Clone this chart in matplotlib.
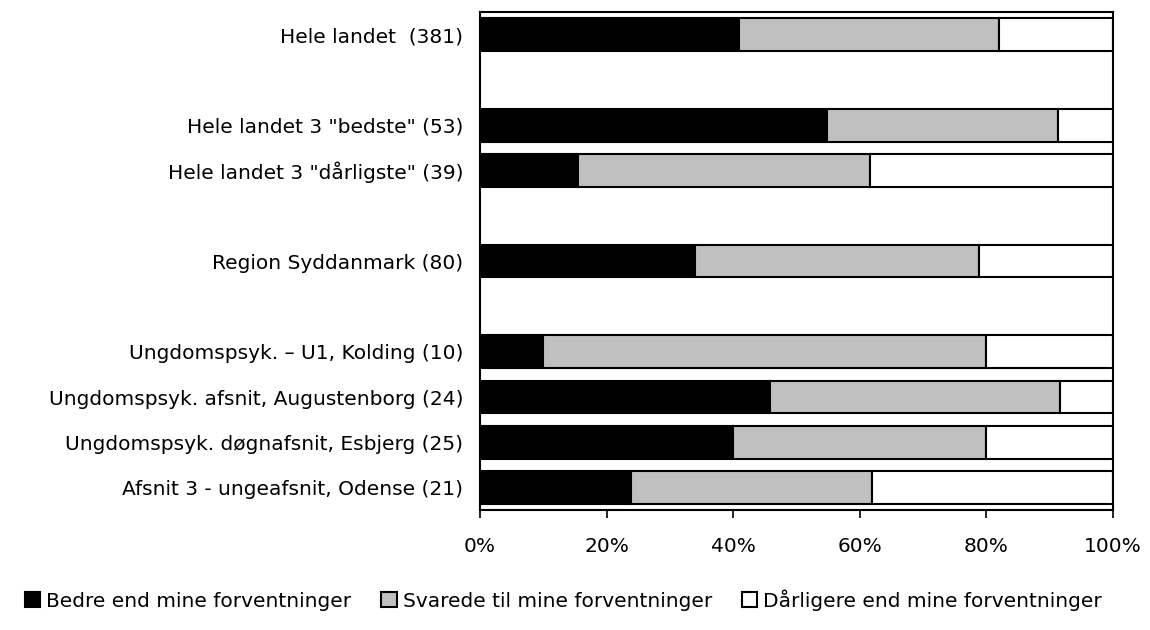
import numpy as np
import matplotlib
matplotlib.use("Agg")
import matplotlib.pyplot as plt
from matplotlib.patches import Patch

# rows from top to bottom, None = empty slot
labels = ['Hele landet  (381)', None,
          'Hele landet 3 "bedste" (53)', 'Hele landet 3 "dårligste" (39)', None,
          'Region Syddanmark (80)', None,
          'Ungdomspsyk. \u2013 U1, Kolding (10)',
          'Ungdomspsyk. afsnit, Augustenborg (24)',
          'Ungdomspsyk. døgnafsnit, Esbjerg (25)',
          'Afsnit 3 - ungeafsnit, Odense (21)']
bedre = [40.9, None, 54.8, 15.5, None, 34.0, None, 10.0, 45.8, 40.0, 23.8]
svarede = [41.1, None, 36.5, 46.1, None, 44.8, None, 70.0, 45.9, 40.0, 38.1]
series_names = ['Bedre end mine forventninger', 'Svarede til mine forventninger',
                'Dårligere end mine forventninger']
colors = ['#000000', '#c0c0c0', '#ffffff']

plt.rcParams['font.family'] = ['DejaVu Sans']

fig = plt.figure(figsize=(11.5, 6.3), dpi=100)
ax = fig.add_axes([0.4174, 0.190, 0.5504, 0.791])

pos = [i for i, l in enumerate(labels) if l is not None]
b = np.array([bedre[i] for i in pos])
s = np.array([svarede[i] for i in pos])
d = 100 - b - s
h = 0.72
ax.barh(pos, b, height=h, color=colors[0], edgecolor='black', linewidth=1.5)
ax.barh(pos, s, left=b, height=h, color=colors[1], edgecolor='black', linewidth=1.5)
ax.barh(pos, d, left=b + s, height=h, color=colors[2], edgecolor='black', linewidth=1.5)

ax.set_ylim(10.5, -0.5)
ax.set_xlim(0, 100)
ax.set_yticks(pos)
ax.set_yticklabels([labels[i] for i in pos], fontsize=14.5)
ax.tick_params(axis='y', length=0, pad=12)
ax.set_xticks(np.arange(0, 101, 20))
ax.set_xticklabels([f'{v}%' for v in range(0, 101, 20)], fontsize=14.5)
ax.tick_params(axis='x', length=6, width=1.2, pad=13)
for sp in ax.spines.values():
    sp.set_linewidth(1.5)

handles = [Patch(facecolor=c, edgecolor='black', linewidth=1.5) for c in colors]
fig.legend(handles, series_names, loc='center', bbox_to_anchor=(0.49, 0.048), ncol=3,
           frameon=False, fontsize=14.5, handlelength=0.75, handleheight=0.75,
           handletextpad=0.3, columnspacing=1.5)

fig.savefig('out.png', dpi=100)
